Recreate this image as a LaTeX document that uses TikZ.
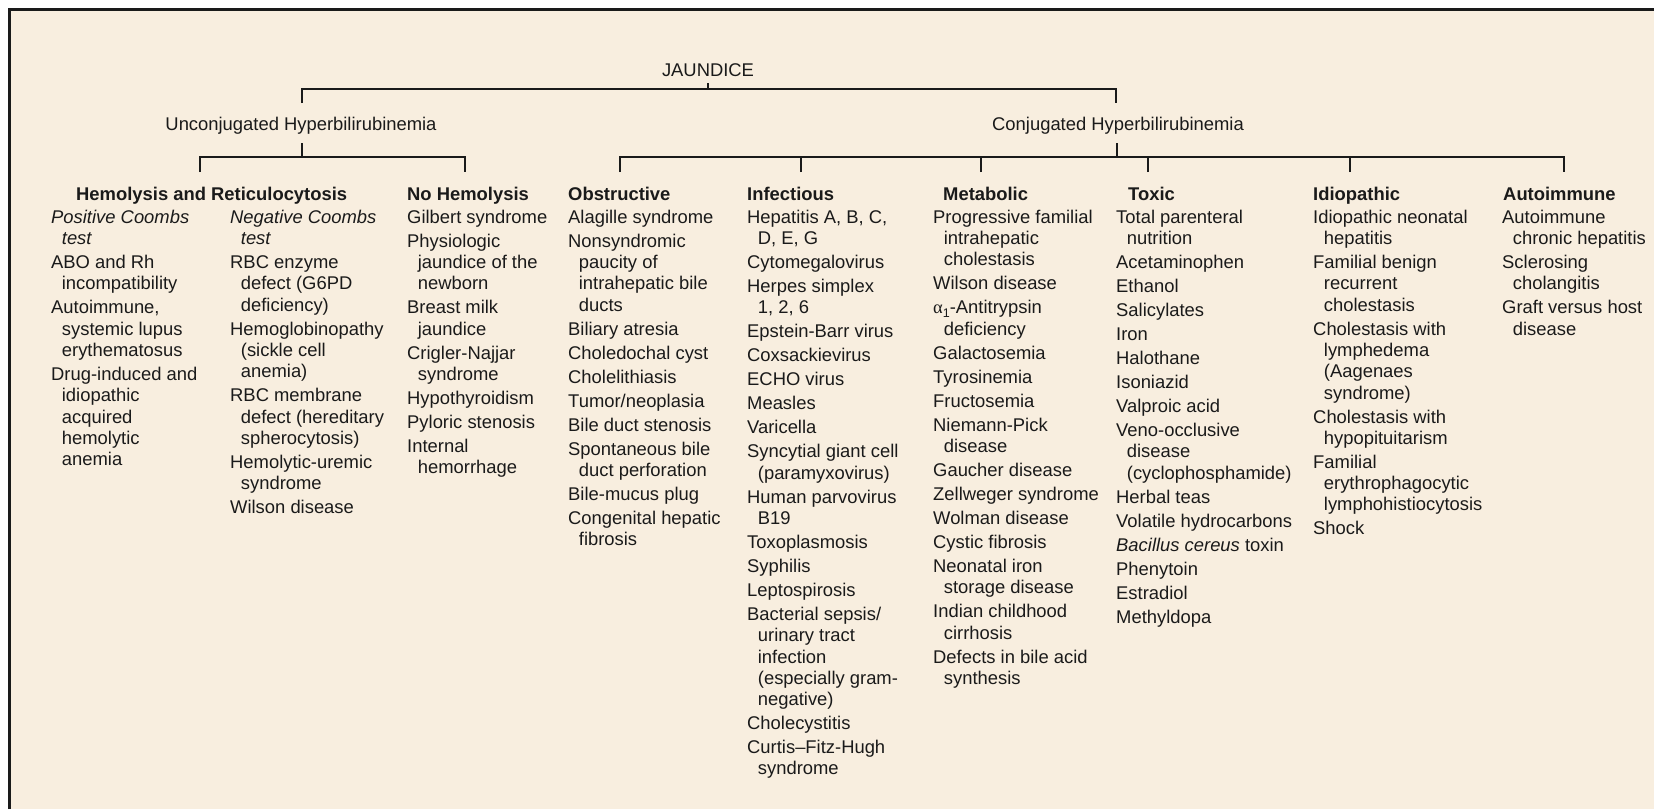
\documentclass[tikz,border=0pt]{standalone}
\usepackage{fontspec}
\setmainfont{Liberation Sans}
\newfontfamily\grk{Liberation Serif}
\definecolor{bg}{HTML}{F8EEDF}
\definecolor{ink}{HTML}{1A1A1A}
\newcommand\fs{\fontsize{18.4}{21.3}\selectfont}
\newcommand\ind{\hspace*{10.7pt}}
\newcommand\alphaone{{\grk α}\raisebox{-3.5pt}{\fontsize{12.5}{12.5}\selectfont 1}}
\tikzset{
  lst/.style={anchor=north west, inner sep=0pt, align=left, font=\fs, text=ink},
  hd/.style={anchor=base west, inner sep=0pt, font=\fs\bfseries, text=ink},
  lab/.style={anchor=base, inner sep=0pt, font=\fs, text=ink},
  tree/.style={line width=2.5pt, line join=miter, draw=ink},
}
\begin{document}
\begin{tikzpicture}[x=1pt,y=-1pt]
\useasboundingbox (0,0) rectangle (1654,809);
\fill[white] (0,0) rectangle (1654,809);
\fill[bg] (9.5,9.5) rectangle (1654,809);
\draw[line width=3pt, draw=ink] (9.5,809) -- (9.5,9.5) -- (1654,9.5);

% top labels
\node[lab] (jaundice) at (708,76) {JAUNDICE};
\node[lab] (unconj) at (301,130) {Unconjugated Hyperbilirubinemia};
\node[lab] (conj) at (1118,130) {Conjugated Hyperbilirubinemia};

% headings
\node[hd] (hemo) at (76,200) {Hemolysis and Reticulocytosis};
\node[hd] (nohemo) at (407,200) {No Hemolysis};
\node[hd] (obst) at (568,200) {Obstructive};
\node[hd] (infe) at (747,200) {Infectious};
\node[hd] (meta) at (943,200) {Metabolic};
\node[hd] (toxi) at (1128,200) {Toxic};
\node[hd] (idio) at (1313,200) {Idiopathic};
\node[hd] (auto) at (1503,200) {Autoimmune};

% tree coordinates
\coordinate (jtop) at (708,83);
\coordinate (jbar) at (708,89);
\coordinate (udrop) at (302,103);
\coordinate (cdrop) at (1116,103);
\coordinate (utop) at (302,143);
\coordinate (ubar) at (302,157);
\coordinate (ctop) at (1117,143);
\coordinate (cbar) at (1117,157);
\coordinate (dhemo) at (200,172);
\coordinate (dnohemo) at (465,172);
\coordinate (dobst) at (620,172);
\coordinate (dinfe) at (801,172);
\coordinate (dmeta) at (981,172);
\coordinate (dtoxi) at (1148,172);
\coordinate (didio) at (1350,172);
\coordinate (dauto) at (1564,172);

\draw[tree] (jtop) -- (jbar);
\draw[tree] (udrop) |- (jbar) -| (cdrop);
\draw[tree] (utop) -- (ubar);
\draw[tree] (dhemo) |- (ubar) -| (dnohemo);
\draw[tree] (ctop) -- (cbar);
\draw[tree] (dobst) |- (cbar) -| (dauto);
\draw[tree] (dinfe) -- (dinfe |- cbar);
\draw[tree] (dmeta) -- (dmeta |- cbar);
\draw[tree] (dtoxi) -- (dtoxi |- cbar);
\draw[tree] (didio) -- (didio |- cbar);

% lists
\node[lst] (poscoombs) at (51,208.1) {\strut\textit{Positive Coombs}\\\ind\textit{test}\\[2.7pt]ABO and Rh\\\ind incompatibility\\[2.7pt]Autoimmune,\\\ind systemic lupus\\\ind erythematosus\\[2.7pt]Drug-induced and\\\ind idiopathic\\\ind acquired\\\ind hemolytic\\\ind anemia};

\node[lst] (negcoombs) at (230,208.1) {\strut\textit{Negative Coombs}\\\ind\textit{test}\\[2.7pt]RBC enzyme\\\ind defect (G6PD\\\ind deficiency)\\[2.7pt]Hemoglobinopathy\\\ind (sickle cell\\\ind anemia)\\[2.7pt]RBC membrane\\\ind defect (hereditary\\\ind spherocytosis)\\[2.7pt]Hemolytic-uremic\\\ind syndrome\\[2.7pt]Wilson disease};

\node[lst] (nohemolist) at (407,208.1) {\strut Gilbert syndrome\\[2.7pt]Physiologic\\\ind jaundice of the\\\ind newborn\\[2.7pt]Breast milk\\\ind jaundice\\[2.7pt]Crigler-Najjar\\\ind syndrome\\[2.7pt]Hypothyroidism\\[2.7pt]Pyloric stenosis\\[2.7pt]Internal\\\ind hemorrhage};

\node[lst] (obstlist) at (568,208.1) {\strut Alagille syndrome\\[2.7pt]Nonsyndromic\\\ind paucity of\\\ind intrahepatic bile\\\ind ducts\\[2.7pt]Biliary atresia\\[2.7pt]Choledochal cyst\\[2.7pt]Cholelithiasis\\[2.7pt]Tumor/neoplasia\\[2.7pt]Bile duct stenosis\\[2.7pt]Spontaneous bile\\\ind duct perforation\\[2.7pt]Bile-mucus plug\\[2.7pt]Congenital hepatic\\\ind fibrosis};

\node[lst] (infelist) at (747,208.1) {\strut Hepatitis A, B, C,\\\ind D, E, G\\[2.7pt]Cytomegalovirus\\[2.7pt]Herpes simplex\\\ind 1, 2, 6\\[2.7pt]Epstein-Barr virus\\[2.7pt]Coxsackievirus\\[2.7pt]ECHO virus\\[2.7pt]Measles\\[2.7pt]Varicella\\[2.7pt]Syncytial giant cell\\\ind (paramyxovirus)\\[2.7pt]Human parvovirus\\\ind B19\\[2.7pt]Toxoplasmosis\\[2.7pt]Syphilis\\[2.7pt]Leptospirosis\\[2.7pt]Bacterial sepsis/\\\ind urinary tract\\\ind infection\\\ind (especially gram-\\\ind negative)\\[2.7pt]Cholecystitis\\[2.7pt]Curtis--Fitz-Hugh\\\ind syndrome};

\node[lst] (metalist) at (933,208.1) {\strut Progressive familial\\\ind intrahepatic\\\ind cholestasis\\[2.7pt]Wilson disease\\[2.7pt]\alphaone-Antitrypsin\\\ind deficiency\\[2.7pt]Galactosemia\\[2.7pt]Tyrosinemia\\[2.7pt]Fructosemia\\[2.7pt]Niemann-Pick\\\ind disease\\[2.7pt]Gaucher disease\\[2.7pt]Zellweger syndrome\\[2.7pt]Wolman disease\\[2.7pt]Cystic fibrosis\\[2.7pt]Neonatal iron\\\ind storage disease\\[2.7pt]Indian childhood\\\ind cirrhosis\\[2.7pt]Defects in bile acid\\\ind synthesis};

\node[lst] (toxilist) at (1116,208.1) {\strut Total parenteral\\\ind nutrition\\[2.7pt]Acetaminophen\\[2.7pt]Ethanol\\[2.7pt]Salicylates\\[2.7pt]Iron\\[2.7pt]Halothane\\[2.7pt]Isoniazid\\[2.7pt]Valproic acid\\[2.7pt]Veno-occlusive\\\ind disease\\\ind (cyclophosphamide)\\[2.7pt]Herbal teas\\[2.7pt]Volatile hydrocarbons\\[2.7pt]\textit{Bacillus cereus} toxin\\[2.7pt]Phenytoin\\[2.7pt]Estradiol\\[2.7pt]Methyldopa};

\node[lst] (idiolist) at (1313,208.1) {\strut Idiopathic neonatal\\\ind hepatitis\\[2.7pt]Familial benign\\\ind recurrent\\\ind cholestasis\\[2.7pt]Cholestasis with\\\ind lymphedema\\\ind (Aagenaes\\\ind syndrome)\\[2.7pt]Cholestasis with\\\ind hypopituitarism\\[2.7pt]Familial\\\ind erythrophagocytic\\\ind lymphohistiocytosis\\[2.7pt]Shock};

\node[lst] (autolist) at (1502,208.1) {\strut Autoimmune\\\ind chronic hepatitis\\[2.7pt]Sclerosing\\\ind cholangitis\\[2.7pt]Graft versus host\\\ind disease};
\end{tikzpicture}
\end{document}
